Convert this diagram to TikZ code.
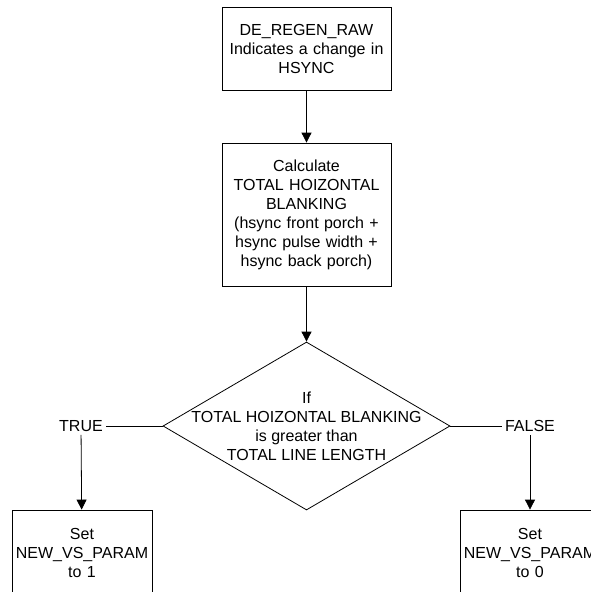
\documentclass[tikz,border=0pt]{standalone}
\usepackage{fontspec}
\setmainfont{Liberation Sans}
\usetikzlibrary{arrows.meta,shapes.geometric}
\begin{document}
\begin{tikzpicture}[x=1pt,y=-1pt,
  every node/.style={font=\fontsize{16}{19}\selectfont, align=center},
  box/.style={draw=black, line width=0.8pt, inner sep=0pt, text width=#1},
  arr/.style={line width=0.8pt, -{Triangle[width=10pt,length=10pt]}},
  ln/.style={line width=0.8pt},
  lbl/.style={inner sep=3pt}]
\useasboundingbox (0,0) rectangle (591,592);
\clip (0,0) rectangle (591,592);
\node[box=169pt, minimum height=83pt] (top) at (306.5,48.5) {DE\_REGEN\_RAW\\Indicates a change in\\HSYNC};
\node[box=169pt, minimum height=143pt] (calc) at (306.5,214.5) {Calculate\\TOTAL HOIZONTAL\\BLANKING\\(hsync front porch +\\hsync pulse width +\\hsync back porch)};
\node[draw=black, line width=0.8pt, diamond, inner sep=0pt, minimum width=287pt, minimum height=168pt] (dia) at (306.5,426) {};
\node (diatext) at (306.5,426.5) {If\\TOTAL HOIZONTAL BLANKING\\is greater than\\TOTAL LINE LENGTH};
\node[lbl] (true) at (81,426) {TRUE};
\node[lbl] (false) at (530,426) {FALSE};
\node[box=140pt, minimum height=86pt] (setone) at (82,553) {Set\\NEW\_VS\_PARAM\\to 1};
\node[box=140pt, minimum height=86pt] (setzero) at (530,553) {Set\\NEW\_VS\_PARAM\\to 0};
\draw[arr] (top) -- (calc);
\draw[arr] (calc) -- (dia);
\draw[ln] (dia.west) -- (true.east);
\draw[ln] (dia.east) -- (false.west);
\draw[arr] (true) -- (setone);
\draw[arr] (false) -- (setzero);
\end{tikzpicture}
\end{document}
